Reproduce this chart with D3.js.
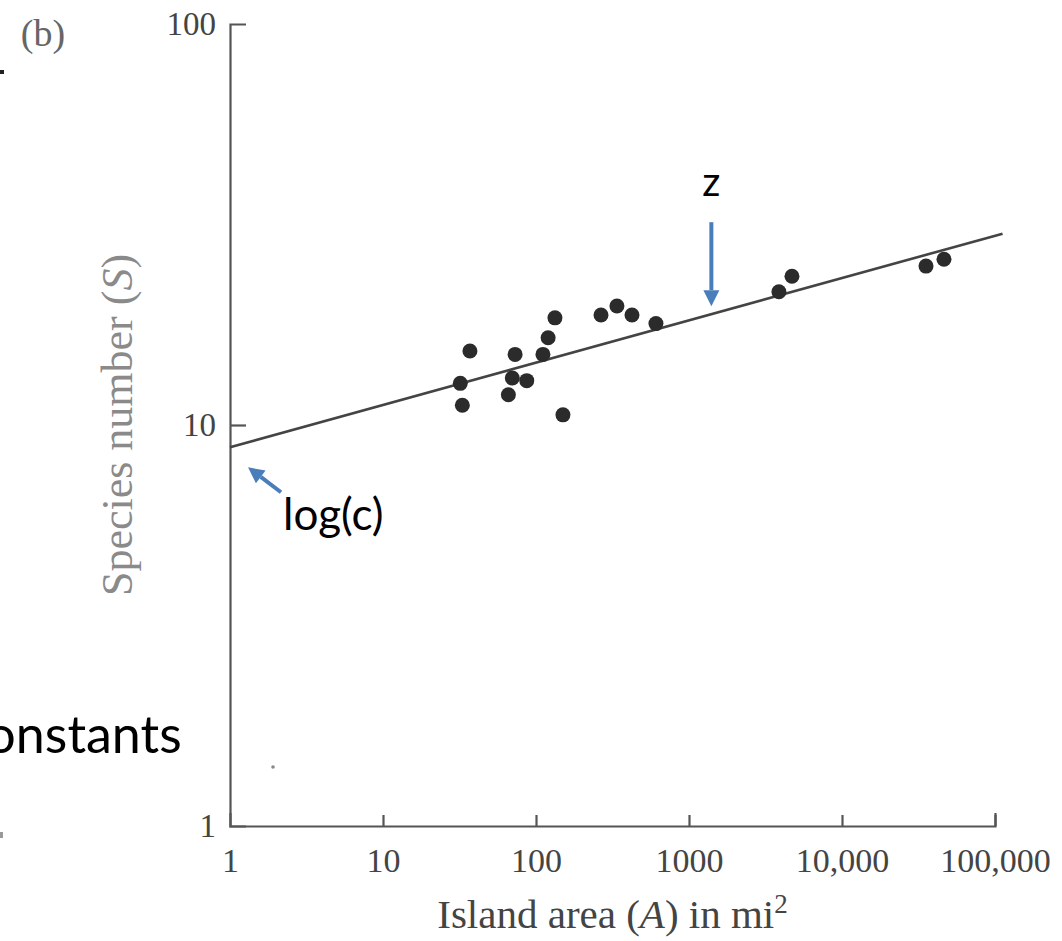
<!DOCTYPE html>
<html>
<head>
<meta charset="utf-8">
<script src="https://cdn.jsdelivr.net/npm/d3@7"></script>
<style>
  html, body { margin: 0; padding: 0; background: #fff; }
  svg { display: block; }
  .axis path, .axis line { stroke: #555; stroke-width: 2.2; }
  .axis text { font-family: "Liberation Serif", "DejaVu Serif", serif; fill: #444; }
  .note { font-family: Lato, "Open Sans", sans-serif; fill: #000; }
</style>
</head>
<body>
<svg id="chart" width="1062" height="941"></svg>
<script>
// island area (mi^2) and species number
var areaMi2 = [32, 33, 37, 73, 70, 87, 66, 111, 120, 133, 150, 266, 338, 424, 608, 3870, 4710, 35400, 46400];
var speciesS = [12.7, 11.2, 15.3, 15.0, 13.1, 12.9, 11.9, 15.0, 16.5, 18.5, 10.6, 18.8, 19.8, 18.8, 17.9, 21.5, 23.5, 24.9, 25.9];

// fitted line end points
var fitArea = [1, 112000];
var fitSpecies = [8.8, 30];

var xTickValues = [1, 10, 100, 1000, 10000, 100000];
var xTickLabels = ['1', '10', '100', '1000', '10,000', '100,000'];
var yTickValues = [1, 10, 100];
var yTickLabels = ['1', '10', '100'];

var svg = d3.select('#chart'),
    blue = '#4a7ebb';

var x = d3.scaleLog().domain([1, 100000]).range([230, 995]),
    y = d3.scaleLog().domain([1, 100]).range([826, 24]);

// axes
var yAxis = d3.axisLeft(y)
    .tickValues(yTickValues)
    .tickFormat(function (d, i) { return yTickLabels[i]; })
    .tickSize(-16)
    .tickPadding(14);

var xAxis = d3.axisBottom(x)
    .tickValues(xTickValues)
    .tickFormat(function (d, i) { return xTickLabels[i]; })
    .tickSizeInner(-11)
    .tickSizeOuter(-13)
    .tickPadding(22);

var gx = svg.append('g').attr('class', 'axis')
    .attr('transform', 'translate(0,' + y(1) + ')')
    .call(xAxis);
gx.selectAll('text').style('font-size', '34px');
gx.select('.tick line').remove();

var gy = svg.append('g').attr('class', 'axis')
    .attr('transform', 'translate(' + x(1) + ',0)')
    .call(yAxis);
gy.selectAll('text').style('font-size', '33px');
gy.selectAll('.tick').filter(function (d) { return d === 1 || d === 100; }).select('line').remove();

// axis titles
svg.append('text')
    .attr('x', (x.range()[0] + x.range()[1]) / 2)
    .attr('y', 928)
    .attr('text-anchor', 'middle')
    .style('font-family', '"Liberation Serif", serif')
    .style('font-size', '41px')
    .style('fill', '#444')
    .html('Island area (<tspan font-style="italic">A</tspan>) in mi<tspan dy="-15" font-size="27px">2</tspan>');

svg.append('text')
    .attr('transform', 'translate(117,' + y(10) + ') rotate(-90)')
    .attr('text-anchor', 'middle')
    .attr('dy', '0.35em')
    .style('font-family', '"Liberation Serif", serif')
    .style('font-size', '44px')
    .style('fill', '#8a8a8a')
    .html('Species number (<tspan font-style="italic">S</tspan>)');

svg.append('text')
    .attr('x', 43).attr('y', 46)
    .attr('text-anchor', 'middle')
    .style('font-family', '"Liberation Serif", serif')
    .style('font-size', '38px')
    .style('fill', '#666')
    .text('(b)');

// fitted line
svg.append('line')
    .attr('x1', x(fitArea[0])).attr('y1', y(fitSpecies[0]))
    .attr('x2', x(fitArea[1])).attr('y2', y(fitSpecies[1]))
    .attr('stroke', '#444')
    .attr('stroke-width', 2.6);

// islands
svg.append('g').selectAll('circle')
    .data(areaMi2)
    .join('circle')
    .attr('cx', function (d) { return x(d); })
    .attr('cy', function (d, i) { return y(speciesS[i]); })
    .attr('r', 7.5)
    .attr('fill', '#2b2b2b');

// annotations
function arrow(x1, y1, x2, y2) {
    var a = Math.atan2(y2 - y1, x2 - x1),
        hl = 16, hw = 8,
        bx = x2 - hl * Math.cos(a), by = y2 - hl * Math.sin(a);
    svg.append('line')
        .attr('x1', x1).attr('y1', y1).attr('x2', bx).attr('y2', by)
        .attr('stroke', blue).attr('stroke-width', 4);
    svg.append('path')
        .attr('d', 'M' + x2 + ',' + y2 +
            'L' + (bx + hw * Math.sin(a)) + ',' + (by - hw * Math.cos(a)) +
            'L' + (bx - hw * Math.sin(a)) + ',' + (by + hw * Math.cos(a)) + 'Z')
        .attr('fill', blue);
}

var zArea = 1400,
    zx = x(zArea),
    zLine = y(fitSpecies[0] * Math.pow(zArea, Math.log(fitSpecies[1] / fitSpecies[0]) / Math.log(fitArea[1])));
arrow(zx, zLine - 92, zx, zLine - 8);
svg.append('text').attr('class', 'note')
    .attr('x', zx).attr('y', zLine - 118)
    .attr('text-anchor', 'middle')
    .style('font-size', '40px')
    .text('z');

var cx0 = x(1) + 18, cy0 = y(fitSpecies[0]) + 20;
arrow(cx0 + 33, cy0 + 25, cx0, cy0);
svg.append('text').attr('class', 'note')
    .attr('x', cx0 + 35).attr('y', cy0 + 63)
    .style('font-size', '44px')
    .text('log(c)');

// slide text cut off at the left edge
svg.append('text').attr('class', 'note')
    .attr('x', -38).attr('y', 753)
    .style('font-size', '52px')
    .text('constants');

svg.append('rect').attr('x', 0).attr('y', 70).attr('width', 4).attr('height', 4).attr('fill', '#222');
svg.append('rect').attr('x', 0).attr('y', 832).attr('width', 3).attr('height', 6).attr('fill', '#999');
svg.append('circle').attr('cx', 273).attr('cy', 767).attr('r', 1.8).attr('fill', '#888');
</script>
</body>
</html>
